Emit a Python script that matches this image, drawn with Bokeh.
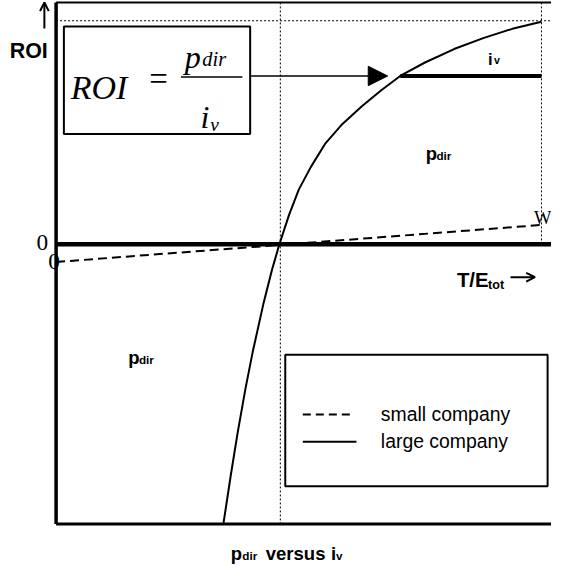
from bokeh.plotting import figure
from bokeh.models import Range1d, Arrow, NormalHead, OpenHead
from bokeh.core.properties import value
from bokeh.embed import file_html
from bokeh.resources import INLINE

# ---------------- data (x in units of W, y in ROI units) ----------------
large_x = [0.345, 0.360, 0.374, 0.390, 0.405, 0.427, 0.445, 0.460, 0.480, 0.500, 0.525,
           0.555, 0.590, 0.630, 0.670, 0.709, 0.760, 0.820, 0.880, 0.940, 1.000]
large_y = [-1.655, -1.370, -1.120, -0.860, -0.640, -0.355, -0.150, 0.000, 0.175, 0.325, 0.460,
           0.600, 0.715, 0.820, 0.915, 1.000, 1.080, 1.160, 1.225, 1.280, 1.322]
small_x = [0.0, 1.0]
small_y = [-0.105, 0.115]
roi_level = 1.0          # ROI target level (thick horizontal)
roi_start_x = 0.709      # where the large company curve reaches it
break_even_x = 0.462     # dotted vertical through the zero crossing
roi_max = 1.328          # ROI of the large company at W
legend_labels = ["small company", "large company"]

# ---------------- layout helpers (reference pixel -> data) ----------------
X0_PX, W_PX = 59.0, 556.7
Y0_PX, Y1_PX = 255.0, 81.0
def dx(px):
    return (px - X0_PX) / (W_PX - X0_PX)
def dy(py):
    return (Y0_PX - py) / (Y0_PX - Y1_PX)

FIG_W, FIG_H = 551, 567
RX0, RX1 = 2.0, 567.0
RY0, RY1 = 3.0, 589.0
S = 0.5 * (FIG_W / (RX1 - RX0) + FIG_H / (RY1 - RY0))
def fs(n):
    return f"{n * S:.1f}px"

p = figure(width=FIG_W, height=FIG_H, output_backend="svg", toolbar_location=None,
           x_range=Range1d(dx(RX0), dx(RX1)), y_range=Range1d(dy(RY1), dy(RY0)),
           min_border=0, x_axis_location=None, y_axis_location=None)
p.grid.visible = False
p.outline_line_color = None
p.background_fill_color = "white"

SANS = value("Liberation Sans")
SERIF = value("Liberation Serif")
top_y = dy(5)
bot_y = dy(544)
right_x = dx(567)
DOT = "2 2"

# dotted guides
p.line([0, right_x], [roi_max, roi_max], line_color="black", line_width=1, line_dash=DOT)
p.line([break_even_x, break_even_x], [top_y, bot_y], line_color="black", line_width=1, line_dash=DOT)
p.line([1, 1], [top_y, 0], line_color="black", line_width=1, line_dash=DOT)

# frame
p.line([0, 0], [top_y, bot_y], line_color="black", line_width=3.5)
p.line([0, right_x], [top_y, top_y], line_color="black", line_width=2)
p.line([0, right_x], [bot_y, bot_y], line_color="black", line_width=3)

# series
p.line(small_x, small_y, line_color="black", line_width=2, line_dash="9 5")
p.line(large_x, large_y, line_color="black", line_width=2)

# x axis (zero ROI)
p.line([0, right_x], [0, 0], line_color="black", line_width=4.5)

# ROI level line
p.line([roi_start_x, 1], [roi_level, roi_level], line_color="black", line_width=4)

# arrow from formula
p.add_layout(Arrow(end=NormalHead(size=20 * S, fill_color="black", line_color="black"),
                   x_start=dx(259), y_start=roi_level, x_end=dx(399), y_end=roi_level,
                   line_width=1.5, line_color="black"))

# formula box
p.quad(left=[dx(67)], right=[dx(258)], top=[dy(30)], bottom=[dy(141)],
       fill_color=None, line_color="black", line_width=2)
p.text(x=[dx(74)], y=[dy(93)], text=["ROI"], text_font=SERIF, text_font_style="italic",
       text_font_size=fs(35), text_baseline="alphabetic", text_align="left")
p.text(x=[dx(164)], y=[dy(84)], text=["="], text_font=SERIF,
       text_font_size=fs(34), text_baseline="middle", text_align="center")
p.text(x=[dx(191)], y=[dy(61)], text=["p"], text_font=SERIF, text_font_style="italic",
       text_font_size=fs(33), text_baseline="alphabetic", text_align="left")
p.text(x=[dx(209)], y=[dy(63)], text=["dir"], text_font=SERIF, text_font_style="italic",
       text_font_size=fs(21), text_baseline="alphabetic", text_align="left")
p.line([dx(187), dx(250)], [dy(82), dy(82)], line_color="black", line_width=1.5)
p.text(x=[dx(207)], y=[dy(123)], text=["i"], text_font=SERIF, text_font_style="italic",
       text_font_size=fs(33), text_baseline="alphabetic", text_align="left")
p.text(x=[dx(217)], y=[dy(131)], text=["v"], text_font=SERIF, text_font_style="italic",
       text_font_size=fs(20), text_baseline="alphabetic", text_align="left")

# y axis label and arrow
p.add_layout(Arrow(end=OpenHead(size=9 * S, line_width=2, line_color="black"),
                   x_start=dx(47), y_start=dy(32), x_end=dx(47), y_end=dy(5),
                   line_width=2, line_color="black"))
p.text(x=[dx(31)], y=[dy(55)], text=["ROI"], text_font=SANS, text_font_style="bold",
       text_font_size=fs(22), text_baseline="middle", text_align="center")

# zeros and W
p.text(x=[dx(45)], y=[dy(253)], text=["0"], text_font=SERIF, text_font_size=fs(24),
       text_baseline="middle", text_align="center")
p.text(x=[dx(57)], y=[dy(273)], text=["0"], text_font=SERIF, text_font_size=fs(24),
       text_baseline="middle", text_align="center")
p.text(x=[dx(558)], y=[dy(228)], text=["W"], text_font=SERIF, text_font_size=fs(19),
       text_baseline="middle", text_align="center")

# x axis label T/E_tot ->
p.text(x=[dx(470)], y=[dy(292)], text=["T/E"], text_font=SANS, text_font_style="bold",
       text_font_size=fs(21), text_baseline="alphabetic", text_align="left")
p.text(x=[dx(502)], y=[dy(297)], text=["tot"], text_font=SANS, text_font_style="bold",
       text_font_size=fs(13), text_baseline="alphabetic", text_align="left")
p.add_layout(Arrow(end=OpenHead(size=9 * S, line_width=2, line_color="black"),
                   x_start=dx(525), y_start=dy(289), x_end=dx(550), y_end=dy(289),
                   line_width=2, line_color="black"))

# region labels
def sub_label(px, py, main, sub, size_main, size_sub, gap):
    p.text(x=[dx(px)], y=[dy(py)], text=[main], text_font=SANS, text_font_style="bold",
           text_font_size=fs(size_main), text_baseline="alphabetic", text_align="left")
    p.text(x=[dx(px + gap)], y=[dy(py + 2)], text=[sub], text_font=SANS, text_font_style="bold",
           text_font_size=fs(size_sub), text_baseline="alphabetic", text_align="left")

sub_label(502, 63, "i", "v", 17, 11, 6)
sub_label(438, 161, "p", "dir", 19, 12, 11)
sub_label(133, 372, "p", "dir", 19, 12, 11)

# legend
p.quad(left=[dx(294)], right=[dx(563)], top=[dy(369)], bottom=[dy(505)],
       fill_color="white", line_color="black", line_width=2)
p.line([dx(312), dx(362)], [dy(431), dy(431)], line_color="black", line_width=2, line_dash="8 5")
p.line([dx(312), dx(367)], [dy(459), dy(459)], line_color="black", line_width=2)
p.text(x=[dx(392), dx(392)], y=[dy(430), dy(458)], text=legend_labels, text_font=SANS,
       text_font_size=fs(20), text_baseline="middle", text_align="left")

# title below
TB = 575
p.text(x=[dx(238)], y=[dy(TB)], text=["p"], text_font=SANS, text_font_style="bold",
       text_font_size=fs(19), text_baseline="alphabetic", text_align="left")
p.text(x=[dx(250)], y=[dy(TB + 2)], text=["dir"], text_font=SANS, text_font_style="bold",
       text_font_size=fs(12), text_baseline="alphabetic", text_align="left")
p.text(x=[dx(274)], y=[dy(TB)], text=["versus"], text_font=SANS, text_font_style="bold",
       text_font_size=fs(19), text_baseline="alphabetic", text_align="left")
p.text(x=[dx(341)], y=[dy(TB)], text=["i"], text_font=SANS, text_font_style="bold",
       text_font_size=fs(19), text_baseline="alphabetic", text_align="left")
p.text(x=[dx(346)], y=[dy(TB + 2)], text=["v"], text_font=SANS, text_font_style="bold",
       text_font_size=fs(12), text_baseline="alphabetic", text_align="left")

open("out.html", "w").write(file_html(p, INLINE))
